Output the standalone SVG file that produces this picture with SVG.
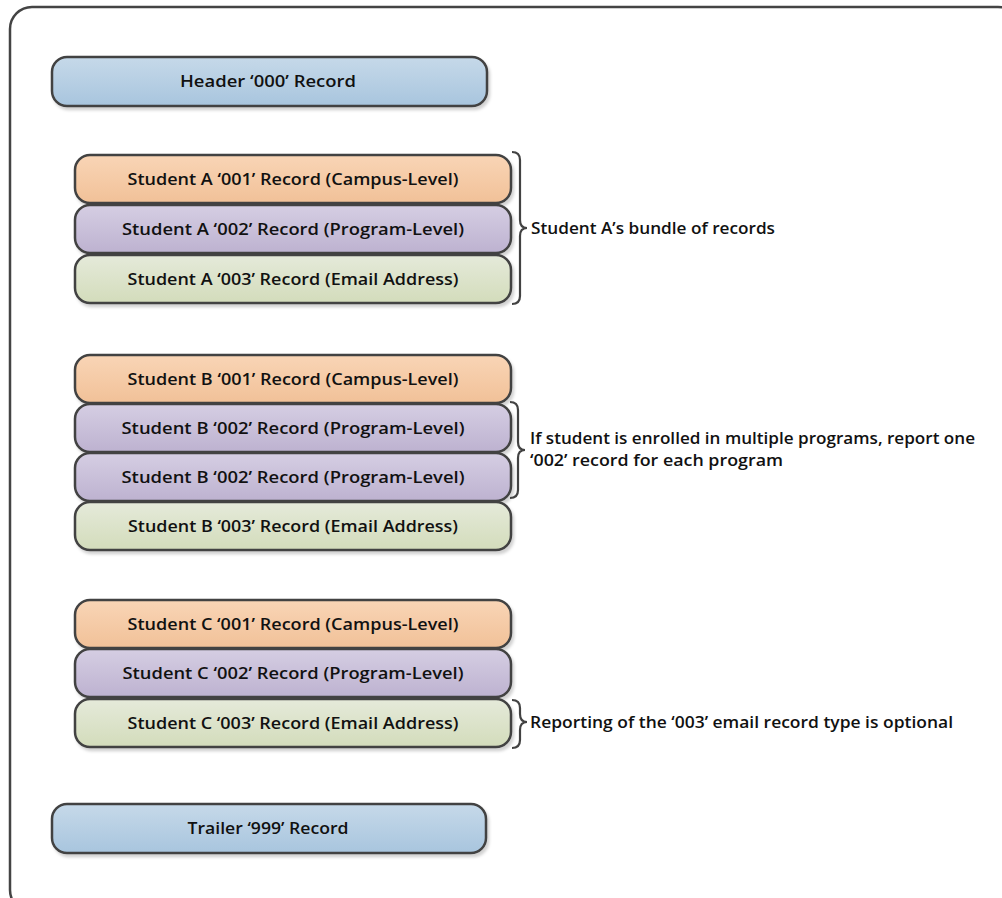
<svg xmlns="http://www.w3.org/2000/svg" width="1002" height="898" viewBox="0 0 1002 898">
<defs>
<linearGradient id="gBlue" x1="0" y1="0" x2="0" y2="1"><stop offset="0" stop-color="#c6d9e9"/><stop offset="1" stop-color="#a8c5de"/></linearGradient>
<linearGradient id="gOrange" x1="0" y1="0" x2="0" y2="1"><stop offset="0" stop-color="#f9d5b6"/><stop offset="1" stop-color="#f1c198"/></linearGradient>
<linearGradient id="gPurple" x1="0" y1="0" x2="0" y2="1"><stop offset="0" stop-color="#d5cee3"/><stop offset="1" stop-color="#bdb2d0"/></linearGradient>
<linearGradient id="gGreen" x1="0" y1="0" x2="0" y2="1"><stop offset="0" stop-color="#e5eada"/><stop offset="1" stop-color="#d3dcbb"/></linearGradient>
<filter id="sh" x="-5%" y="-20%" width="115%" height="150%"><feDropShadow dx="2" dy="3" stdDeviation="1.5" flood-color="#000" flood-opacity="0.18"/></filter>
</defs>
<style>
.box{stroke:#424242;stroke-width:2.5;filter:url(#sh)}
.blue{fill:url(#gBlue)}.orange{fill:url(#gOrange)}.purple{fill:url(#gPurple)}.green{fill:url(#gGreen)}
text{font-family:"Open Sans",Lato,"Liberation Sans",sans-serif;font-size:17px;font-weight:600;fill:#111}
.c{text-anchor:middle}
.brace{fill:none;stroke:#424242;stroke-width:2.2}
</style>
<rect x="10" y="7" width="1010" height="905" rx="22" fill="#fff" stroke="#444" stroke-width="2.5"/>
<g id="header"><rect class="box blue" x="52" y="57" width="435" height="49" rx="15"/><text class="c" x="268" y="87" textLength="176" lengthAdjust="spacingAndGlyphs">Header ‘000’ Record</text></g>
<g id="a001"><rect class="box orange" x="75" y="155" width="436" height="48" rx="15"/><text class="c" x="293" y="185" textLength="331" lengthAdjust="spacingAndGlyphs">Student A ‘001’ Record (Campus-Level)</text></g>
<g id="a002"><rect class="box purple" x="75" y="205" width="436" height="48" rx="15"/><text class="c" x="293" y="235" textLength="342" lengthAdjust="spacingAndGlyphs">Student A ‘002’ Record (Program-Level)</text></g>
<g id="a003"><rect class="box green" x="75" y="255" width="436" height="48" rx="15"/><text class="c" x="293" y="285" textLength="331" lengthAdjust="spacingAndGlyphs">Student A ‘003’ Record (Email Address)</text></g>
<g id="b001"><rect class="box orange" x="75" y="355" width="436" height="48" rx="15"/><text class="c" x="293" y="385" textLength="331" lengthAdjust="spacingAndGlyphs">Student B ‘001’ Record (Campus-Level)</text></g>
<g id="b002a"><rect class="box purple" x="75" y="404" width="436" height="48" rx="15"/><text class="c" x="293" y="434" textLength="343" lengthAdjust="spacingAndGlyphs">Student B ‘002’ Record (Program-Level)</text></g>
<g id="b002b"><rect class="box purple" x="75" y="453" width="436" height="48" rx="15"/><text class="c" x="293" y="483" textLength="343" lengthAdjust="spacingAndGlyphs">Student B ‘002’ Record (Program-Level)</text></g>
<g id="b003"><rect class="box green" x="75" y="502" width="436" height="48" rx="15"/><text class="c" x="293" y="532" textLength="330" lengthAdjust="spacingAndGlyphs">Student B ‘003’ Record (Email Address)</text></g>
<g id="c001"><rect class="box orange" x="75" y="600" width="436" height="48" rx="15"/><text class="c" x="293" y="630" textLength="331" lengthAdjust="spacingAndGlyphs">Student C ‘001’ Record (Campus-Level)</text></g>
<g id="c002"><rect class="box purple" x="75" y="649" width="436" height="48" rx="15"/><text class="c" x="293" y="679" textLength="341" lengthAdjust="spacingAndGlyphs">Student C ‘002’ Record (Program-Level)</text></g>
<g id="c003"><rect class="box green" x="75" y="699" width="436" height="48" rx="15"/><text class="c" x="293" y="729" textLength="331" lengthAdjust="spacingAndGlyphs">Student C ‘003’ Record (Email Address)</text></g>
<g id="trailer"><rect class="box blue" x="52" y="804" width="434" height="49" rx="15"/><text class="c" x="268" y="834" textLength="161" lengthAdjust="spacingAndGlyphs">Trailer ‘999’ Record</text></g>
<g id="connectors">
<path class="brace" d="M512,152 Q520,152 520,160 L520,220 Q520,228 527,228 Q520,228 520,236 L520,296 Q520,304 512,304"/>
<path class="brace" d="M510,402 Q518,402 518,410 L518,442 Q518,450 525,450 Q518,450 518,458 L518,490 Q518,498 510,498"/>
<path class="brace" d="M512,700 Q520,700 520,708 L520,714 Q520,722 527,722 Q520,722 520,730 L520,740 Q520,748 512,748"/>
</g>
<g id="labelA"><text x="531" y="234" textLength="244" lengthAdjust="spacingAndGlyphs">Student A’s bundle of records</text></g>
<g id="labelB"><text x="530" y="444" textLength="445" lengthAdjust="spacingAndGlyphs">If student is enrolled in multiple programs, report one</text><text x="530" y="466" textLength="253" lengthAdjust="spacingAndGlyphs">‘002’ record for each program</text></g>
<g id="labelC"><text x="530" y="728" textLength="423" lengthAdjust="spacingAndGlyphs">Reporting of the ‘003’ email record type is optional</text></g>
</svg>
